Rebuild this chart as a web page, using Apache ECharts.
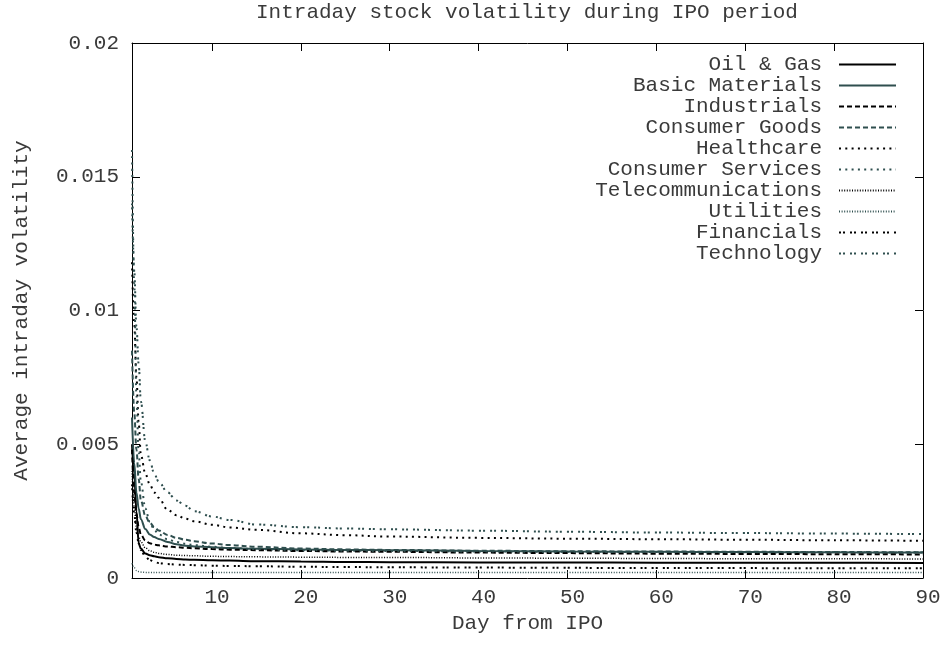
<!DOCTYPE html>
<html>
<head>
<meta charset="utf-8">
<script src="https://cdn.jsdelivr.net/npm/echarts@6/dist/echarts.min.js"></script>
<style>
  html, body { margin: 0; padding: 0; background: #fff; }
  #chart { width: 945px; height: 650px; }
</style>
</head>
<body>
<div id="chart"></div>
<script>
// Day offsets since the IPO at which each sector's average is sampled
const days = [1, 1.25, 1.5, 1.75, 2, 2.5, 3, 3.5, 4, 5, 6, 7, 8, 10, 12, 15, 20, 25, 30, 40, 50, 60, 70, 80, 90];

// Average intraday volatility per sector
const oilGas = [0.0050, 0.0039, 0.0025, 0.0013, 0.00110, 0.00092, 0.00085, 0.00081, 0.00078, 0.00074, 0.00071, 0.00069, 0.00068, 0.00066, 0.00065, 0.00063, 0.00062, 0.00060, 0.00059, 0.00058, 0.00058, 0.00057, 0.00057, 0.00057, 0.00056];
const basicMaterials = [0.0060, 0.0043, 0.0032, 0.0026, 0.0022, 0.00183, 0.00163, 0.00153, 0.00146, 0.00135, 0.00126, 0.00121, 0.00118, 0.00115, 0.00112, 0.00109, 0.00107, 0.00105, 0.00104, 0.00101, 0.00099, 0.00098, 0.00097, 0.00096, 0.00095];
const industrials = [0.0048, 0.0032, 0.0024, 0.0019, 0.00162, 0.00140, 0.00130, 0.00125, 0.00122, 0.00118, 0.00115, 0.00113, 0.00111, 0.00108, 0.00106, 0.00104, 0.00101, 0.00099, 0.00098, 0.00095, 0.00093, 0.00091, 0.00090, 0.00089, 0.00088];
const consumerGoods = [0.0085, 0.0062, 0.0048, 0.0037, 0.0029, 0.00232, 0.00207, 0.00190, 0.00178, 0.00161, 0.00150, 0.00143, 0.00137, 0.00129, 0.00123, 0.00117, 0.00110, 0.00107, 0.00105, 0.00102, 0.00100, 0.00099, 0.00098, 0.00097, 0.00096];
const healthcare = [0.0118, 0.0095, 0.0075, 0.0058, 0.0046, 0.0039, 0.0035, 0.0032, 0.0030, 0.00255, 0.00235, 0.00222, 0.00212, 0.00199, 0.00189, 0.00180, 0.00167, 0.00160, 0.00155, 0.00150, 0.00147, 0.00145, 0.00143, 0.00141, 0.00139];
const consumerServices = [0.0160, 0.0110, 0.0068, 0.0047, 0.0036, 0.0026, 0.0021, 0.00180, 0.00163, 0.00145, 0.00135, 0.00128, 0.00123, 0.00117, 0.00112, 0.00108, 0.00104, 0.00102, 0.00101, 0.00099, 0.00098, 0.00097, 0.00096, 0.00096, 0.00095];
const telecommunications = [0.0040, 0.0027, 0.0019, 0.00155, 0.00135, 0.00113, 0.00102, 0.00096, 0.00092, 0.00088, 0.00085, 0.00084, 0.00083, 0.00081, 0.00080, 0.00079, 0.00078, 0.00077, 0.00077, 0.00075, 0.00074, 0.00073, 0.00072, 0.00072, 0.00071];
const utilities = [0.00055, 0.00038, 0.00028, 0.00024, 0.00022, 0.00021, 0.00021, 0.00021, 0.00021, 0.00021, 0.00021, 0.00021, 0.00021, 0.00021, 0.00021, 0.00021, 0.00021, 0.00021, 0.00021, 0.00021, 0.00021, 0.00021, 0.00021, 0.00021, 0.00021];
const financials = [0.0035, 0.0024, 0.0017, 0.0013, 0.00105, 0.00080, 0.00067, 0.00060, 0.00056, 0.00052, 0.00050, 0.00049, 0.00048, 0.00046, 0.00045, 0.00044, 0.00042, 0.00041, 0.00040, 0.00039, 0.00038, 0.00037, 0.00037, 0.00036, 0.00036];
const technology = [0.0140, 0.0115, 0.0094, 0.0080, 0.0066, 0.0051, 0.0044, 0.0039, 0.0036, 0.0032, 0.0029, 0.0027, 0.0025, 0.0023, 0.00217, 0.00200, 0.00190, 0.00185, 0.00182, 0.00177, 0.00173, 0.00170, 0.00168, 0.00166, 0.00164];

const xTicks = [10, 20, 30, 40, 50, 60, 70, 80, 90];
const yTicks = [0, 0.005, 0.01, 0.015, 0.02];

const FONT = '"Liberation Mono", "DejaVu Sans Mono", monospace';
const FONT_SIZE = 21;
const INK = '#3a3a3a';
const BLACK = '#000000';
const SLATE = '#2f4f4f';

const sectors = [
  { name: 'Oil & Gas', values: oilGas, color: BLACK, type: 'solid', width: 2 },
  { name: 'Basic Materials', values: basicMaterials, color: SLATE, type: 'solid', width: 2 },
  { name: 'Industrials', values: industrials, color: BLACK, type: [5, 3], width: 2 },
  { name: 'Consumer Goods', values: consumerGoods, color: SLATE, type: [5, 3], width: 2 },
  { name: 'Healthcare', values: healthcare, color: BLACK, type: [2, 4.3], width: 2 },
  { name: 'Consumer Services', values: consumerServices, color: SLATE, type: [2, 4.3], width: 2 },
  { name: 'Telecommunications', values: telecommunications, color: BLACK, type: [1, 1.6], width: 1.5 },
  { name: 'Utilities', values: utilities, color: SLATE, type: [1, 1.6], width: 1.5 },
  { name: 'Financials', values: financials, color: BLACK, type: [2, 2, 2, 5], width: 2 },
  { name: 'Technology', values: technology, color: SLATE, type: [2, 2, 2, 5], width: 2 }
];

const chart = echarts.init(document.getElementById('chart'), null, { renderer: 'canvas' });

const baseAxis = {
  axisLine: { show: true, onZero: false, lineStyle: { color: BLACK, width: 1 } },
  axisTick: { show: true, inside: true, length: 8, lineStyle: { color: BLACK, width: 1 } },
  splitLine: { show: false },
  nameTextStyle: { fontFamily: FONT, fontSize: FONT_SIZE, color: INK }
};

chart.setOption({
  animation: false,
  backgroundColor: '#ffffff',
  title: {
    text: 'Intraday stock volatility during IPO period',
    left: 251,
    top: -3,
    textStyle: { fontFamily: FONT, fontSize: FONT_SIZE, fontWeight: 'normal', color: INK }
  },
  legend: {
    orient: 'vertical',
    right: 43,
    top: 49,
    align: 'right',
    itemWidth: 57,
    itemHeight: 14,
    itemGap: 0,
    selectedMode: false,
    itemStyle: { opacity: 0, borderWidth: 0 },
    textStyle: { fontFamily: FONT, fontSize: FONT_SIZE, lineHeight: 21, color: INK, padding: [0, 12, 0, 0] },
    data: sectors.map(s => s.name)
  },
  grid: { left: 132, right: 22, top: 43, bottom: 72, containLabel: false },
  xAxis: [
    Object.assign({}, baseAxis, {
      type: 'value',
      min: 1,
      max: 90,
      name: 'Day from IPO',
      nameLocation: 'middle',
      nameGap: 15,
      axisTick: Object.assign({}, baseAxis.axisTick, { customValues: xTicks }),
      axisLabel: {
        customValues: xTicks,
        fontFamily: FONT, fontSize: FONT_SIZE, color: INK, margin: 9,
        padding: [0, 0, 0, 10]
      }
    }),
    Object.assign({}, baseAxis, {
      type: 'value',
      position: 'top',
      min: 1,
      max: 90,
      axisTick: Object.assign({}, baseAxis.axisTick, { customValues: xTicks }),
      axisLabel: { show: false }
    })
  ],
  yAxis: [
    Object.assign({}, baseAxis, {
      type: 'value',
      min: 0,
      max: 0.02,
      interval: 0.005,
      name: 'Average intraday volatility',
      nameLocation: 'middle',
      nameGap: 100,
      axisTick: Object.assign({}, baseAxis.axisTick, { customValues: yTicks }),
      axisLabel: {
        customValues: yTicks,
        fontFamily: FONT, fontSize: FONT_SIZE, color: INK, margin: 13,
        formatter: v => String(+v.toFixed(3))
      }
    }),
    Object.assign({}, baseAxis, {
      type: 'value',
      position: 'right',
      min: 0,
      max: 0.02,
      interval: 0.005,
      axisLabel: { show: false }
    })
  ],
  series: sectors.map(s => ({
    name: s.name,
    type: 'line',
    xAxisIndex: 0,
    yAxisIndex: 0,
    showSymbol: false,
    symbol: 'none',
    smooth: 0.35,
    smoothMonotone: 'x',
    color: s.color,
    lineStyle: { color: s.color, width: s.width, type: s.type, cap: 'butt' },
    emphasis: { disabled: true },
    data: days.map((d, i) => [d, s.values[i]])
  }))
});
</script>
</body>
</html>
